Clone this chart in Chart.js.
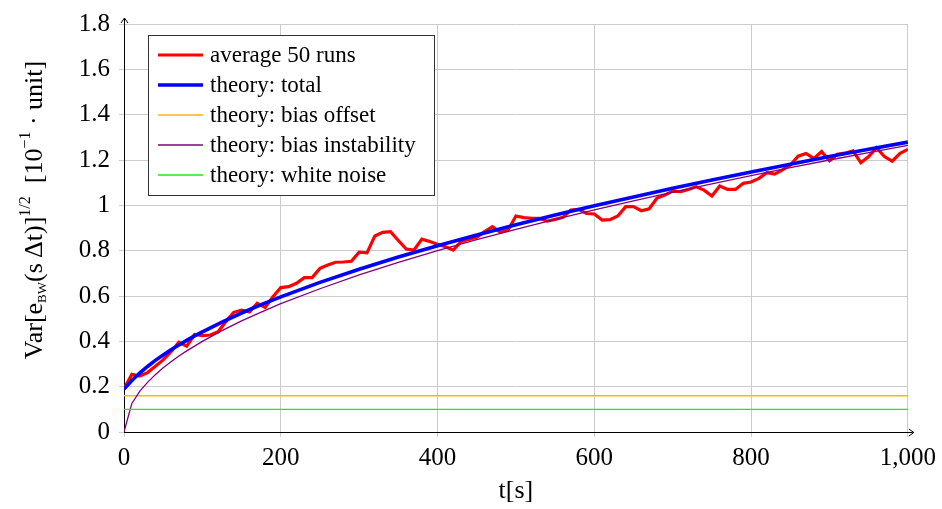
<!DOCTYPE html>
<html>
<head>
<meta charset="utf-8">
<script src="https://cdn.jsdelivr.net/npm/chart.js@4/dist/chart.umd.min.js"></script>
<style>
  html, body { margin: 0; padding: 0; background: #fff; }
  canvas { display: block; }
</style>
</head>
<body>
<canvas id="chart" width="942" height="509"></canvas>
<script>
// time axis of the averaged runs [s]
const tRuns = [
  0, 10, 20, 30, 40, 50, 60, 70, 80, 90,
  100, 110, 120, 130, 140, 150, 160, 170, 180, 190,
  200, 210, 220, 230, 240, 250, 260, 270, 280, 290,
  300, 310, 320, 330, 340, 350, 360, 370, 380, 390,
  400, 410, 420, 430, 440, 450, 460, 470, 480, 490,
  500, 510, 520, 530, 540, 550, 560, 570, 580, 590,
  600, 610, 620, 630, 640, 650, 660, 670, 680, 690,
  700, 710, 720, 730, 740, 750, 760, 770, 780, 790,
  800, 810, 820, 830, 840, 850, 860, 870, 880, 890,
  900, 910, 920, 930, 940, 950, 960, 970, 980, 990,
  1000
];
const avgRuns = [
  0.19, 0.254, 0.247, 0.262, 0.29, 0.318, 0.354, 0.396, 0.379, 0.43,
  0.425, 0.428, 0.442, 0.487, 0.528, 0.538, 0.53, 0.568, 0.55, 0.597,
  0.637, 0.641, 0.656, 0.681, 0.681, 0.722, 0.737, 0.749, 0.75, 0.753,
  0.793, 0.79, 0.865, 0.881, 0.884, 0.845, 0.807, 0.803, 0.851, 0.84,
  0.828, 0.817, 0.803, 0.84, 0.85, 0.859, 0.884, 0.906, 0.881, 0.891,
  0.953, 0.946, 0.943, 0.943, 0.93, 0.938, 0.947, 0.979, 0.982, 0.964,
  0.962, 0.935, 0.937, 0.953, 0.994, 0.994, 0.976, 0.985, 1.032, 1.045,
  1.063, 1.06, 1.07, 1.082, 1.067, 1.041, 1.085, 1.07, 1.07, 1.097,
  1.103, 1.119, 1.144, 1.138, 1.156, 1.178, 1.217, 1.229, 1.207, 1.237,
  1.197, 1.225, 1.23, 1.24, 1.188, 1.215, 1.254, 1.215, 1.195, 1.229,
  1.247
];

// theory curves
const tTheory = [0, 10, 20, 30, 40, 50, 60, 70, 80, 90, 100, 125, 150, 175, 200,
  250, 300, 350, 400, 450, 500, 550, 600, 650, 700, 750, 800, 850, 900, 950, 1000];
const totalTheory = [0.189, 0.227, 0.26, 0.289, 0.316, 0.34, 0.363, 0.384, 0.404, 0.424, 0.442,
  0.485, 0.525, 0.562, 0.596, 0.66, 0.718, 0.772, 0.822, 0.869, 0.914, 0.957, 0.998,
  1.037, 1.075, 1.112, 1.147, 1.181, 1.215, 1.247, 1.279];
const instabTheory = [0, 0.126, 0.179, 0.219, 0.253, 0.283, 0.31, 0.335, 0.358, 0.379, 0.4,
  0.447, 0.49, 0.529, 0.566, 0.632, 0.693, 0.748, 0.8, 0.849, 0.894, 0.938, 0.98,
  1.02, 1.058, 1.095, 1.131, 1.166, 1.2, 1.233, 1.265];
const tFlat = [0, 1000];
const offsetTheory = [0.16, 0.16];
const whiteTheory = [0.1, 0.1];

const xTickLabels = ['0', '200', '400', '600', '800', '1,000'];
const yTickLabels = ['0', '0.2', '0.4', '0.6', '0.8', '1', '1.2', '1.4', '1.6', '1.8'];

const FONT = "'Liberation Serif', 'Times New Roman', serif";

const series = [
  { label: 'average 50 runs', t: tRuns, y: avgRuns, color: '#ff0000', width: 3.2 },
  { label: 'theory: total', t: tTheory, y: totalTheory, color: '#0000ff', width: 3.6 },
  { label: 'theory: bias offset', t: tFlat, y: offsetTheory, color: '#ffb800', width: 1.4 },
  { label: 'theory: bias instability', t: tTheory, y: instabTheory, color: '#800080', width: 1.3 },
  { label: 'theory: white noise', t: tFlat, y: whiteTheory, color: '#22e622', width: 1.4 }
];

const zip = (xs, ys) => xs.map((x, i) => ({ x: x, y: ys[i] }));

// legend box drawn inside the plot, pgfplots style
const boxLegend = {
  id: 'boxLegend',
  afterDraw(chart) {
    const ctx = chart.ctx;
    ctx.save();
    ctx.fillStyle = '#fff';
    ctx.fillRect(148, 35, 286, 161);
    ctx.strokeStyle = '#333';
    ctx.lineWidth = 1;
    ctx.strokeRect(148.5, 35.5, 286, 160);
    ctx.font = '23px ' + FONT;
    ctx.textBaseline = 'middle';
    ctx.fillStyle = '#000';
    series.forEach((s, i) => {
      const y = 55 + i * 30;
      ctx.strokeStyle = s.color;
      ctx.lineWidth = s.width;
      ctx.beginPath();
      ctx.moveTo(158, y);
      ctx.lineTo(203, y);
      ctx.stroke();
      ctx.fillText(s.label, 210, y + 1);
    });
    ctx.restore();
  }
};

// axis arrows + rotated y title with sub/superscripts
const axisExtras = {
  id: 'axisExtras',
  afterDraw(chart) {
    const ctx = chart.ctx;
    const a = chart.chartArea;
    ctx.save();
    ctx.strokeStyle = '#000';
    ctx.lineWidth = 1;
    ctx.beginPath();
    ctx.moveTo(a.left + 0.5, a.top);
    ctx.lineTo(a.left + 0.5, a.top - 5);
    ctx.moveTo(a.left - 3, a.top - 1);
    ctx.lineTo(a.left + 0.5, a.top - 6);
    ctx.lineTo(a.left + 4, a.top - 1);
    ctx.moveTo(a.right, a.bottom + 0.5);
    ctx.lineTo(a.right + 5, a.bottom + 0.5);
    ctx.moveTo(a.right + 1, a.bottom - 3);
    ctx.lineTo(a.right + 6, a.bottom + 0.5);
    ctx.lineTo(a.right + 1, a.bottom + 4);
    ctx.stroke();

    const parts = [
      { s: 'Var[e', size: 26, dy: 0 },
      { s: 'BW', size: 13, dy: 4 },
      { s: '(s\u2009\u0394t)]', size: 26, dy: 0 },
      { s: '1/2', size: 16, dy: -12 },
      { s: '  [10', size: 26, dy: 0 },
      { s: '\u22121', size: 16, dy: -12 },
      { s: ' \u00b7 unit]', size: 26, dy: 0 }
    ];
    let total = 0;
    parts.forEach(p => {
      ctx.font = p.size + 'px ' + FONT;
      p.w = ctx.measureText(p.s).width;
      total += p.w;
    });
    ctx.translate(42, 210);
    ctx.rotate(-Math.PI / 2);
    ctx.fillStyle = '#000';
    ctx.textBaseline = 'alphabetic';
    let x = -total / 2;
    parts.forEach(p => {
      ctx.font = p.size + 'px ' + FONT;
      ctx.fillText(p.s, x, p.dy);
      x += p.w;
    });
    ctx.restore();
  }
};

new Chart(document.getElementById('chart'), {
  type: 'line',
  data: {
    datasets: series.map((s, i) => ({
      label: s.label,
      data: zip(s.t, s.y),
      borderColor: s.color,
      borderWidth: s.width,
      pointRadius: 0,
      tension: 0,
      fill: false,
      order: series.length - i
    }))
  },
  options: {
    responsive: false,
    animation: false,
    layout: { padding: { left: 0, right: 30, top: 24, bottom: 0 } },
    plugins: {
      legend: { display: false },
      tooltip: { enabled: false }
    },
    scales: {
      x: {
        type: 'linear',
        min: 0,
        max: 1000,
        afterFit: scale => { scale.height = 77; },
        ticks: {
          stepSize: 200,
          color: '#000',
          padding: 6,
          maxRotation: 0,
          font: { family: FONT, size: 25 },
          callback: (v, i) => xTickLabels[i]
        },
        grid: { color: '#cccccc', tickLength: 5 },
        border: { color: '#000', width: 1 },
        title: {
          display: true,
          text: 't[s]',
          color: '#000',
          font: { family: FONT, size: 26 },
          padding: { top: 0, bottom: 2 }
        }
      },
      y: {
        min: 0,
        max: 1.8,
        afterFit: scale => { scale.width = 124; },
        ticks: {
          stepSize: 0.2,
          color: '#000',
          padding: 9,
          font: { family: FONT, size: 25 },
          callback: (v, i) => yTickLabels[i]
        },
        grid: { color: '#cccccc', tickLength: 5 },
        border: { color: '#000', width: 1 }
      }
    }
  },
  plugins: [boxLegend, axisExtras]
});
</script>
</body>
</html>
